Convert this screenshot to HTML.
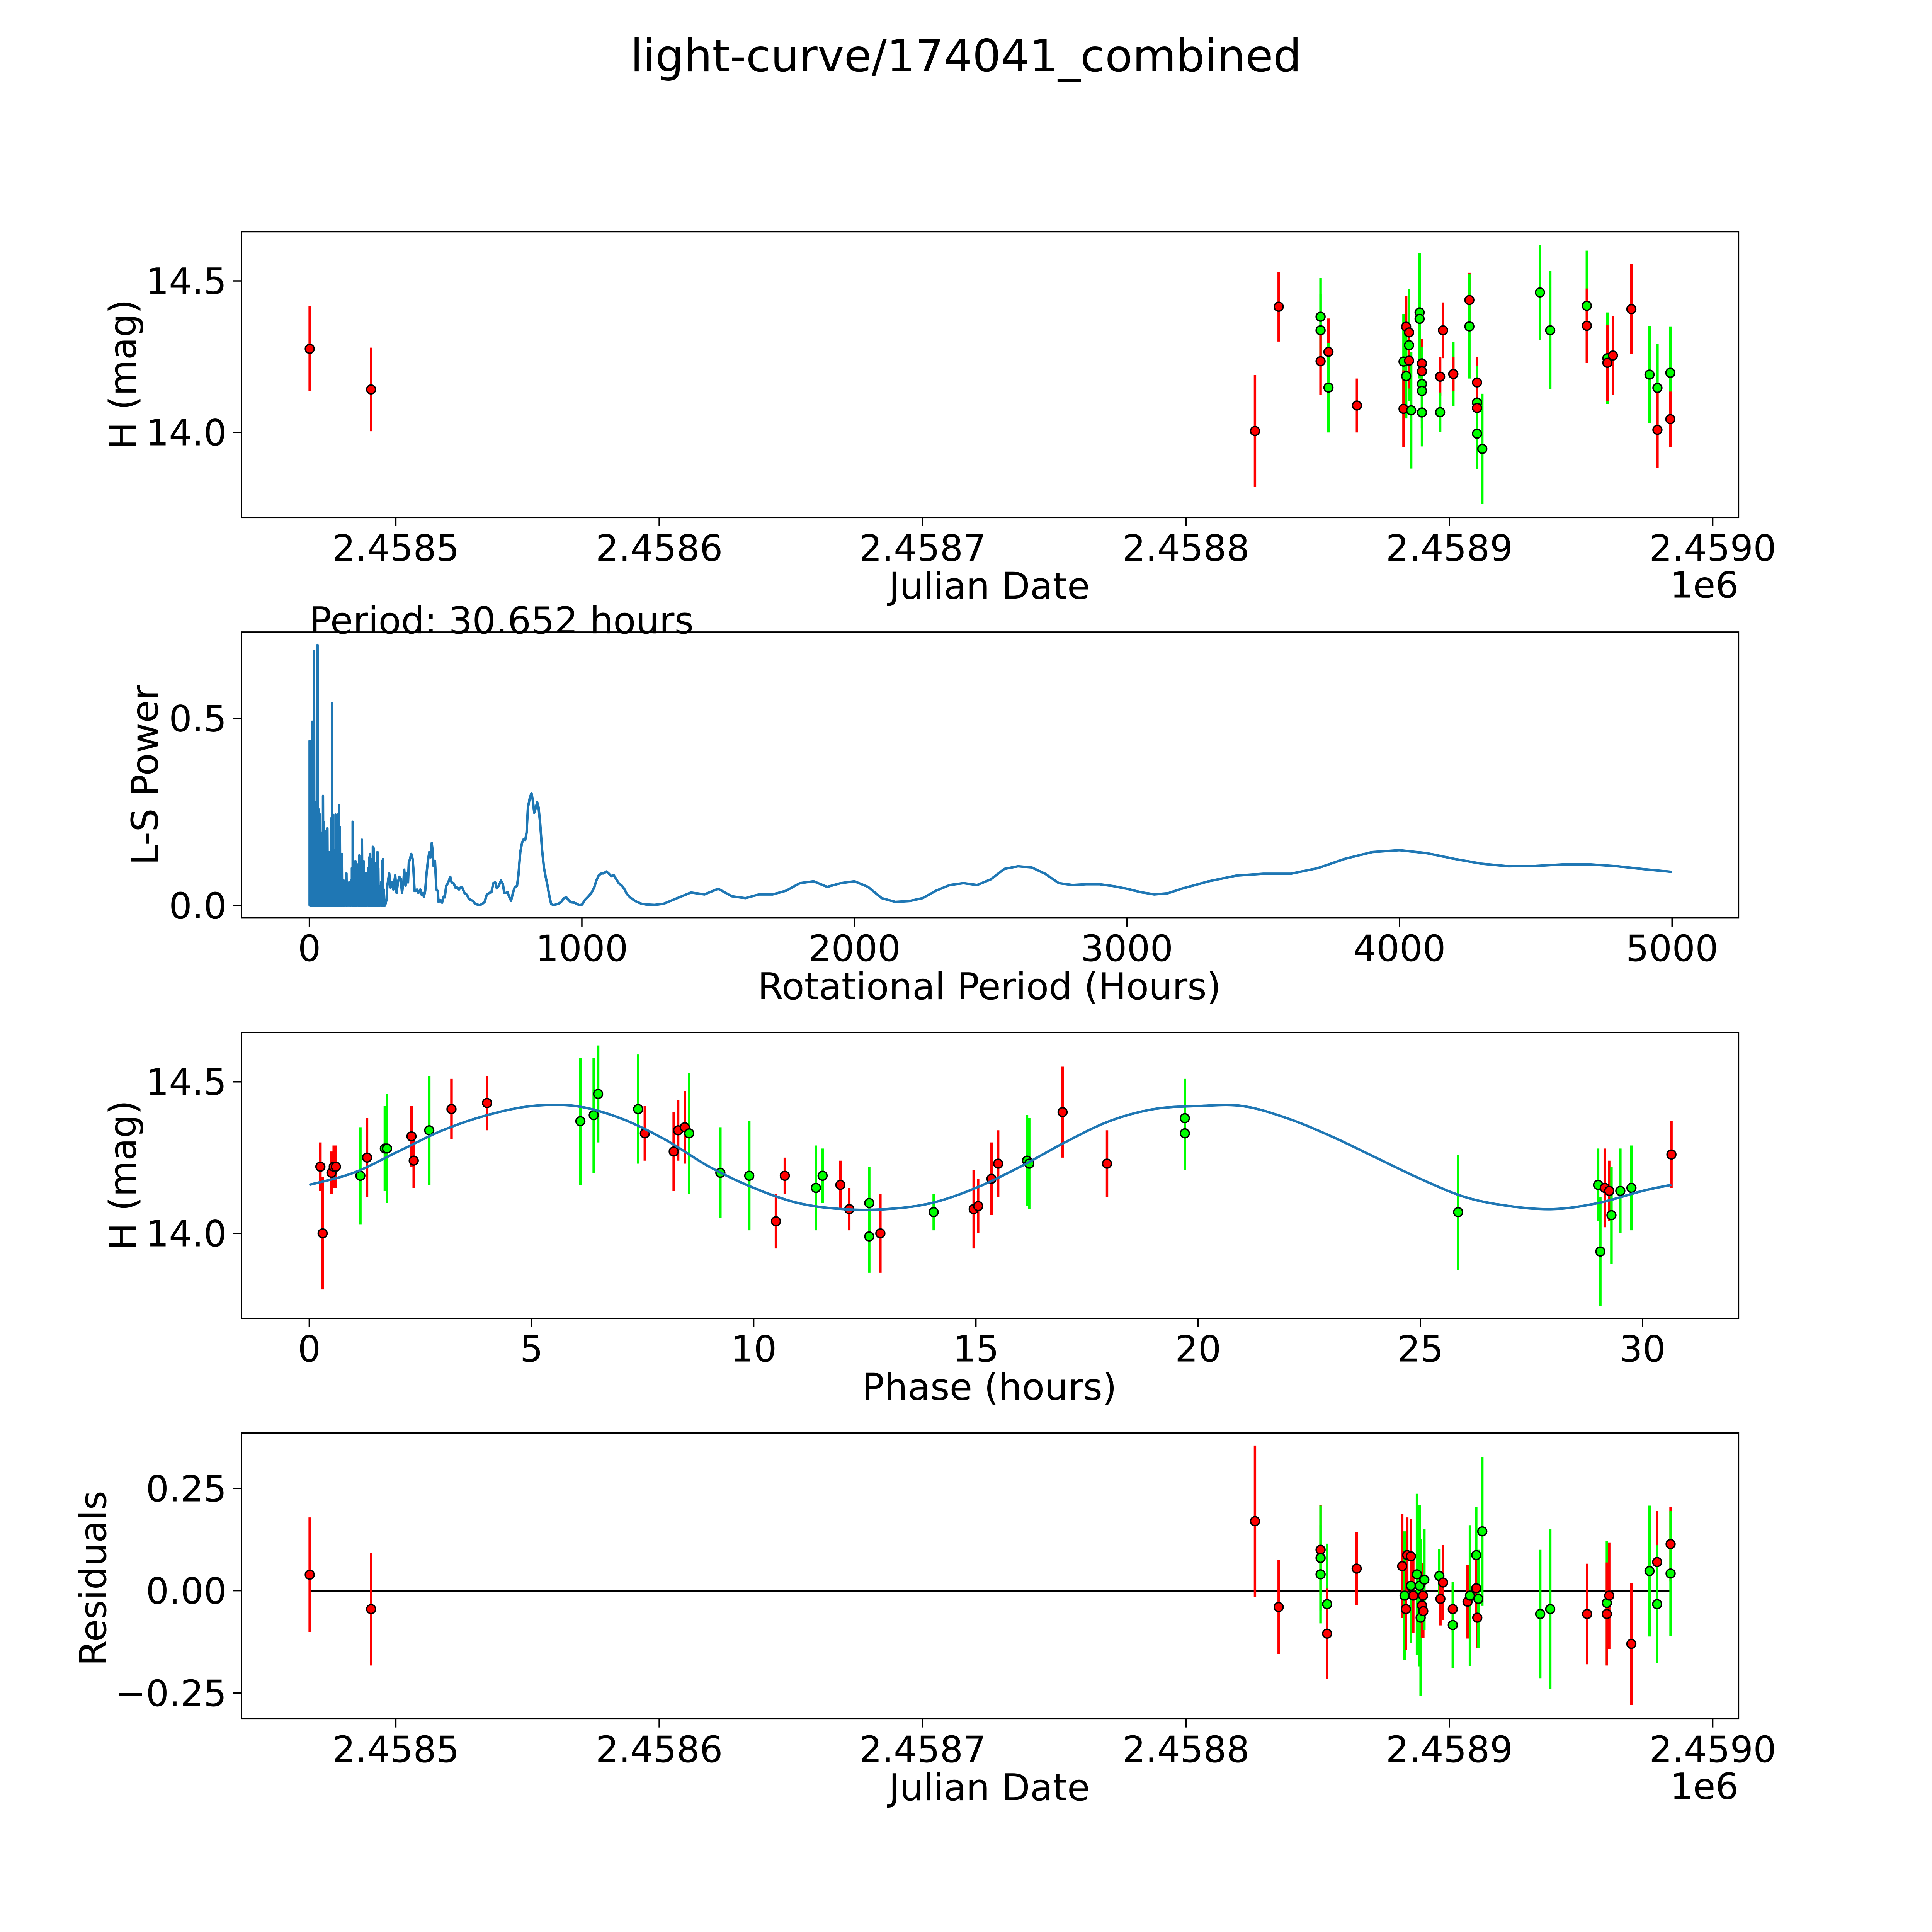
<!DOCTYPE html>
<html><head><meta charset="utf-8"><style>
html,body{margin:0;padding:0;background:#fff;overflow:hidden}
svg{display:block;position:absolute;left:0;top:0;width:100vw;height:100vw}
text{font-family:"DejaVu Sans","Liberation Sans",sans-serif;fill:#000}
</style></head><body>
<svg id="fig" xmlns="http://www.w3.org/2000/svg" viewBox="0 0 1568 1568" preserveAspectRatio="xMinYMin meet">
<rect x="0" y="0" width="1568" height="1568" fill="#fff"/>
<text x="784" y="58" font-size="36.4" text-anchor="middle">light-curve/174041_combined</text>
</svg>
<script>
// ---------- DATA ----------
const jdDays = [-32.7,-9.4,326.2,335.2,351.1,351.1,351.1,354.1,354.1,364.9,382.6,383.6,384.7,384.7,384.7,383.6,382.6,385.5,388.7,388.7,389.6,389.6,389.6,389.6,389.6,397.6,396.5,396.5,401.5,401.5,407.6,407.6,410.5,410.5,410.5,410.5,412.5,434.4,438.3,452.2,452.2,460.0,460.0,462.1,469.1,476.0,479.0,479.0,483.9,483.9];
const jdMag = [14.276,14.142,14.005,14.415,14.382,14.337,14.235,14.266,14.148,14.089,14.234,14.349,14.330,14.288,14.237,14.186,14.078,14.073,14.396,14.375,14.228,14.202,14.160,14.137,14.066,14.337,14.184,14.067,14.193,14.193,14.437,14.350,14.165,14.099,14.081,13.996,13.946,14.462,14.337,14.418,14.352,14.245,14.230,14.254,14.407,14.191,14.147,14.009,14.197,14.044];
const jdErr = [0.14,0.138,0.185,0.115,0.128,0.12,0.11,0.11,0.148,0.089,0.157,0.10,0.092,0.184,0.092,0.14,0.127,0.192,0.197,0.197,0.08,0.08,0.123,0.123,0.112,0.092,0.065,0.065,0.106,0.057,0.09,0.172,0.084,0.12,0.074,0.117,0.182,0.157,0.195,0.182,0.123,0.151,0.126,0.13,0.149,0.16,0.144,0.125,0.153,0.091];
const jdColor = ["r","r","r","r","g","g","r","r","g","r","g","r","r","g","r","g","r","g","g","g","r","r","g","g","g","r","r","g","g","r","r","g","r","g","r","g","g","g","g","g","r","g","r","r","r","g","g","r","g","r"];

const spikePeriods = [1,4,7,10,14,17,20,24,27,30,34,37,40,44,47,50,53,56,60,63,66,70,73,76,80,83,86,90,93,96,100,103,106,109,112,116,119,122,126,129,132,136,139,142,146,149,153,156,159,163,166,169,173,176,179,183,186,189,193,196,199,203,206,209,213,216,220,223,226,230,233,236,240,243,246,250,253,256,260,263,266,270,273,276];
const spikePowers = [0.440,0.385,0.317,0.491,0.276,0.680,0.276,0.243,0.262,0.696,0.257,0.195,0.243,0.148,0.195,0.293,0.224,0.195,0.148,0.200,0.207,0.100,0.143,0.110,0.233,0.540,0.243,0.148,0.105,0.243,0.195,0.243,0.181,0.269,0.210,0.100,0.138,0.053,0.067,0.029,0.062,0.086,0.043,0.053,0.062,0.029,0.067,0.100,0.224,0.100,0.053,0.119,0.100,0.053,0.110,0.134,0.077,0.100,0.176,0.100,0.119,0.086,0.081,0.086,0.062,0.100,0.129,0.138,0.081,0.124,0.157,0.153,0.077,0.034,0.115,0.143,0.100,0.053,0.034,0.062,0.119,0.124,0.043,0.015];
const smoothPeriods = [283,286,293,298,303,308,315,320,325,330,335,340,345,348,353,357,362,365,369,374,379,382,386,390,395,400,407,412,417,420,425,430,435,440,445,449,452,456,461,466,471,474,481,487,492,497,502,507,512,517,522,529,536,543,549,554,561,569,578,584,591,600,608,616,625,635,643,651,660,668,675,682,688,695,703,710,715,722,727,733,740,747,753,762,767,774,780,785,792,797,802,809,815,820,825,831,836,841,847,854,861,867,874,881,887,896,904,914,924,934,943,951,959,971,981,991,1001,1011,1023,1035,1045,1053,1062,1072,1080,1090,1098,1107,1117,1125,1135,1147,1157,1165,1177,1190,1202,1219,1236,1267,1300,1350,1400,1450,1500,1550,1600,1650,1700,1750,1800,1850,1900,1950,2000,2050,2100,2150,2200,2250,2300,2350,2400,2450,2500,2550,2600,2650,2700,2750,2800,2850,2900,2950,3000,3050,3100,3150,3200,3300,3400,3500,3600,3700,3800,3900,4000,4100,4200,4300,4400,4500,4600,4700,4800,4900,5000];
const smoothPowers = [0.015,0.053,0.086,0.048,0.062,0.043,0.081,0.034,0.062,0.077,0.072,0.034,0.062,0.096,0.053,0.086,0.062,0.115,0.124,0.138,0.124,0.095,0.039,0.039,0.043,0.034,0.043,0.029,0.034,0.024,0.039,0.086,0.119,0.143,0.129,0.167,0.148,0.105,0.119,0.043,0.039,0.010,0.015,0.008,0.024,0.022,0.053,0.058,0.067,0.077,0.062,0.060,0.048,0.048,0.043,0.048,0.048,0.034,0.029,0.020,0.015,0.013,0.005,0.003,0.001,0.005,0.010,0.029,0.034,0.036,0.060,0.062,0.046,0.053,0.067,0.058,0.034,0.034,0.036,0.024,0.013,0.034,0.048,0.053,0.081,0.143,0.167,0.176,0.175,0.195,0.262,0.288,0.300,0.281,0.248,0.262,0.276,0.262,0.219,0.148,0.100,0.077,0.053,0.024,0.005,0.001,0.003,0.005,0.010,0.020,0.022,0.015,0.009,0.008,0.005,0.001,0.003,0.015,0.024,0.034,0.048,0.067,0.081,0.086,0.086,0.091,0.086,0.079,0.081,0.072,0.060,0.053,0.043,0.031,0.022,0.015,0.010,0.005,0.003,0.002,0.005,0.020,0.035,0.030,0.045,0.025,0.020,0.030,0.030,0.040,0.060,0.065,0.050,0.060,0.065,0.050,0.020,0.010,0.012,0.020,0.040,0.055,0.060,0.055,0.070,0.098,0.105,0.102,0.085,0.060,0.055,0.057,0.057,0.052,0.045,0.036,0.030,0.033,0.045,0.065,0.080,0.085,0.085,0.100,0.125,0.143,0.148,0.140,0.125,0.112,0.105,0.106,0.110,0.110,0.105,0.097,0.090];

const phHours = [0.25,0.3,0.5,0.55,0.6,1.15,1.3,1.7,1.75,2.3,2.35,2.7,3.2,4.0,6.1,6.4,6.5,7.4,7.55,8.2,8.3,8.45,8.55,9.25,9.9,10.5,10.7,11.4,11.55,11.95,12.15,12.6,12.6,12.85,14.05,14.95,15.05,15.35,15.5,16.15,16.2,16.95,17.95,19.7,19.7,25.85,29.0,29.05,29.15,29.25,29.3,29.5,29.75,30.65];
const phMag = [14.22,14.00,14.20,14.22,14.22,14.19,14.25,14.28,14.28,14.32,14.24,14.34,14.41,14.43,14.37,14.39,14.46,14.41,14.33,14.27,14.34,14.35,14.33,14.20,14.19,14.04,14.19,14.15,14.19,14.16,14.08,14.10,13.99,14.00,14.07,14.08,14.09,14.18,14.23,14.24,14.23,14.40,14.23,14.38,14.33,14.07,14.16,13.94,14.15,14.14,14.06,14.14,14.15,14.26];
const phErr = [0.08,0.185,0.07,0.07,0.07,0.16,0.13,0.14,0.18,0.1,0.09,0.18,0.1,0.09,0.21,0.19,0.16,0.18,0.09,0.13,0.1,0.12,0.2,0.15,0.18,0.09,0.06,0.14,0.09,0.08,0.07,0.12,0.12,0.13,0.06,0.13,0.09,0.12,0.11,0.15,0.15,0.15,0.11,0.13,0.12,0.19,0.12,0.18,0.13,0.1,0.16,0.14,0.14,0.11];
const phColor = ["r","r","r","r","r","g","r","g","g","r","r","g","r","r","g","g","g","g","r","r","r","r","g","g","g","r","r","g","g","r","r","g","g","r","g","r","r","r","r","g","g","r","r","g","g","g","g","g","r","r","g","g","g","r"];
const modelHours = [0,1,2,3,4,5,6,7,8,9,10,11,12,13,14,15,16,17,18,19,20,21,22,23,24,25,26,27,28,29,30,30.65];
const modelMag = [14.16,14.20,14.27,14.34,14.39,14.42,14.42,14.38,14.31,14.22,14.15,14.10,14.08,14.08,14.10,14.15,14.22,14.30,14.37,14.41,14.42,14.42,14.38,14.32,14.25,14.18,14.12,14.09,14.08,14.10,14.14,14.16];

const resDays = [-32.7,-9.4,326.2,335.2,351.1,351.1,351.1,353.6,353.6,364.8,382.1,383.0,383.5,384.0,385.4,385.4,386.3,387.7,388.7,389.1,389.6,390.0,390.1,390.5,396.2,396.6,397.6,401.3,401.3,406.9,407.8,410.2,410.2,410.6,411.0,412.5,434.5,438.3,452.3,459.8,459.8,460.7,469.1,476.0,478.9,478.9,484.0,484.0];
const resVal = [0.039,-0.045,0.17,-0.04,0.10,0.08,0.04,-0.033,-0.105,0.054,0.06,-0.012,-0.045,0.087,0.012,0.084,-0.012,0.04,0.012,-0.066,-0.036,-0.012,-0.05,0.027,0.036,-0.02,0.02,-0.045,-0.084,-0.027,-0.012,0.087,0.006,-0.066,-0.02,0.145,-0.057,-0.045,-0.057,-0.03,-0.057,-0.012,-0.13,0.048,0.07,-0.033,0.114,0.042];
const resErr = [0.14,0.138,0.185,0.115,0.11,0.128,0.12,0.148,0.11,0.089,0.127,0.157,0.10,0.092,0.14,0.092,0.092,0.197,0.197,0.192,0.08,0.08,0.065,0.123,0.065,0.065,0.092,0.057,0.106,0.09,0.172,0.117,0.084,0.074,0.12,0.182,0.157,0.195,0.123,0.151,0.126,0.13,0.149,0.16,0.125,0.144,0.091,0.153];
const resColor = ["r","r","r","r","r","g","g","g","r","r","r","g","r","r","g","r","r","g","g","g","r","r","r","g","g","r","r","r","g","r","g","g","r","r","g","g","g","g","r","g","r","r","r","g","r","g","r","g"];

const jdTicks = [0,100,200,300,400,500];
const jdTickLabels = ["2.4585","2.4586","2.4587","2.4588","2.4589","2.4590"];
const magTicks = [14.0,14.5];
const magTickLabels = ["14.0","14.5"];
const perXTicks = [0,1000,2000,3000,4000,5000];
const perYTicks = [0.0,0.5];
const perYTickLabels = ["0.0","0.5"];
const phXTicks = [0,5,10,15,20,25,30];
const resYTicks = [-0.25,0,0.25];
const resYTickLabels = ["\u22120.25","0.00","0.25"];

// ---------- DRAW ----------
const NS = "http://www.w3.org/2000/svg";
const fig = document.getElementById("fig");
const COL = {r:"#ff0000", g:"#00ff00"};
const TICKFS = 29.5, LABFS = 30;
function mk(tag, attrs, parent){const e=document.createElementNS(NS,tag);for(const k in attrs)e.setAttribute(k,attrs[k]);(parent||fig).appendChild(e);return e;}
function lin(d0,d1,r0,r1){return v=>r0+(v-d0)*(r1-r0)/(d1-d0);}

const L=196, R=1411;
function makeAxes(name, top, xd, yd){
  const g=mk("g",{});
  
  
  const bottom=top+232;
  return {g, top, bottom, x:lin(xd[0],xd[1],L,R), y:lin(yd[0],yd[1],bottom,top)};
}
function frame(ax){
  const r=mk("rect",{x:L,y:ax.top,width:R-L,height:ax.bottom-ax.top,fill:"none",stroke:"#000","stroke-width":1.1},ax.g);
  
  
}
function xticks(ax, vals, labels){
  vals.forEach((v,i)=>{
    const px=ax.x(v);
    const t=mk("line",{x1:px,x2:px,y1:ax.bottom,y2:ax.bottom+7,stroke:"#000","stroke-width":1.1},ax.g);
    
    
    const tx=mk("text",{x:px,y:ax.bottom+35,"font-size":TICKFS,"text-anchor":"middle"},ax.g);
    tx.textContent=labels[i];
    
    
  });
}
function yticks(ax, vals, labels){
  vals.forEach((v,i)=>{
    const py=ax.y(v);
    const t=mk("line",{x1:L-7,x2:L,y1:py,y2:py,stroke:"#000","stroke-width":1.1},ax.g);
    
    
    const tx=mk("text",{x:L-12,y:py+10.5,"font-size":TICKFS,"text-anchor":"end"},ax.g);
    tx.textContent=labels[i];
    
    
  });
}
function label(ax, txt, x, y, rot, nm){
  const t=mk("text",{x:x,y:y,"font-size":LABFS,"text-anchor":"middle"},ax.g);
  if(rot) t.setAttribute("transform","rotate(-90 "+x+" "+y+")");
  t.textContent=txt;
  
  
}
function errPoints(ax, xs, ys, es, cs){
  const n=Math.min(xs.length,ys.length,es.length,cs.length);
  for(let i=0;i<n;i++){
    const px=ax.x(xs[i]);
    const l=mk("line",{x1:px,x2:px,y1:ax.y(ys[i]-es[i]),y2:ax.y(ys[i]+es[i]),stroke:COL[cs[i]],"stroke-width":2},ax.g);
    
    
  }
  for(let i=0;i<n;i++){
    const c=mk("circle",{cx:ax.x(xs[i]),cy:ax.y(ys[i]),r:3.6,fill:COL[cs[i]],stroke:"#000","stroke-width":1.1},ax.g);
    
    
  }
}
function fmt(v){return String(v);}
function smoothPath(pts){
  let d="M"+pts[0][0].toFixed(2)+" "+pts[0][1].toFixed(2);
  for(let i=0;i<pts.length-1;i++){
    const p0=pts[Math.max(i-1,0)],p1=pts[i],p2=pts[i+1],p3=pts[Math.min(i+2,pts.length-1)];
    const c1x=p1[0]+(p2[0]-p0[0])/6,c1y=p1[1]+(p2[1]-p0[1])/6;
    const c2x=p2[0]-(p3[0]-p1[0])/6,c2y=p2[1]-(p3[1]-p1[1])/6;
    d+="C"+c1x.toFixed(2)+" "+c1y.toFixed(2)+" "+c2x.toFixed(2)+" "+c2y.toFixed(2)+" "+p2[0].toFixed(2)+" "+p2[1].toFixed(2);
  }
  return d;
}

// Panel 1
const a1=makeAxes("raw-light-curve-panel",188,[-58.6,509.8],[13.7195,14.6626]);
errPoints(a1,jdDays,jdMag,jdErr,jdColor);
frame(a1);
xticks(a1,jdTicks,jdTickLabels);
yticks(a1,magTicks,magTickLabels);
label(a1,"Julian Date",803,486,false,"x-axis-title");
label(a1,"H (mag)",110,304,true,"y-axis-title");
{const t=mk("text",{x:1411,y:485,"font-size":TICKFS,"text-anchor":"end"},a1.g);t.textContent="1e6";

}

// Panel 2
const a2=makeAxes("periodogram-panel",513,[-249,5244],[-0.0329,0.7303]);
{
  let pts=[];
  const n=Math.min(spikePeriods.length,spikePowers.length);
  for(let i=0;i<n;i++){pts.push([spikePeriods[i],0]);pts.push([spikePeriods[i],spikePowers[i]]);pts.push([spikePeriods[i]+1.5,0]);}
  const m=Math.min(smoothPeriods.length,smoothPowers.length);
  for(let i=0;i<m;i++) pts.push([smoothPeriods[i],smoothPowers[i]]);
  const d=pts.map((p,i)=>(i?"L":"M")+a2.x(p[0]).toFixed(2)+" "+a2.y(p[1]).toFixed(2)).join("");
  const p=mk("path",{d:d,fill:"none",stroke:"#1f77b4","stroke-width":2,"stroke-linejoin":"round"},a2.g);
  
  
}
frame(a2);
xticks(a2,perXTicks,perXTicks.map(fmt));
yticks(a2,perYTicks,perYTickLabels);
label(a2,"Rotational Period (Hours)",803,811,false,"x-axis-title");
label(a2,"L-S Power",128,629,true,"y-axis-title");
{const t=mk("text",{x:251,y:514,"font-size":LABFS,"text-anchor":"start"},a2.g);t.textContent="Period: 30.652 hours";

}

// Panel 3
const a3=makeAxes("phased-light-curve-panel",838,[-1.525,32.16],[13.7195,14.6626]);
{
  errPoints(a3,phHours,phMag,phErr,phColor);
  const pts=modelHours.map((h,i)=>[a3.x(h),a3.y(modelMag[i])]);
  const p=mk("path",{d:smoothPath(pts),fill:"none",stroke:"#1f77b4","stroke-width":2,"stroke-linejoin":"round"},a3.g);
  
  
}
frame(a3);
xticks(a3,phXTicks,phXTicks.map(fmt));
yticks(a3,magTicks,magTickLabels);
label(a3,"Phase (hours)",803,1136,false,"x-axis-title");
label(a3,"H (mag)",110,954,true,"y-axis-title");

// Panel 4
const a4=makeAxes("residuals-panel",1163,[-58.6,509.8],[-0.3133,0.3855]);
{
  const z=mk("line",{x1:a4.x(-32.7),x2:a4.x(484),y1:a4.y(0),y2:a4.y(0),stroke:"#000","stroke-width":1.5},a4.g);
  
  
}
errPoints(a4,resDays,resVal,resErr,resColor);
frame(a4);
xticks(a4,jdTicks,jdTickLabels);
yticks(a4,resYTicks,resYTickLabels);
label(a4,"Julian Date",803,1461,false,"x-axis-title");
label(a4,"Residuals",86,1281,true,"y-axis-title");
{const t=mk("text",{x:1411,y:1460,"font-size":TICKFS,"text-anchor":"end"},a4.g);t.textContent="1e6";

}
</script>
</body></html>
